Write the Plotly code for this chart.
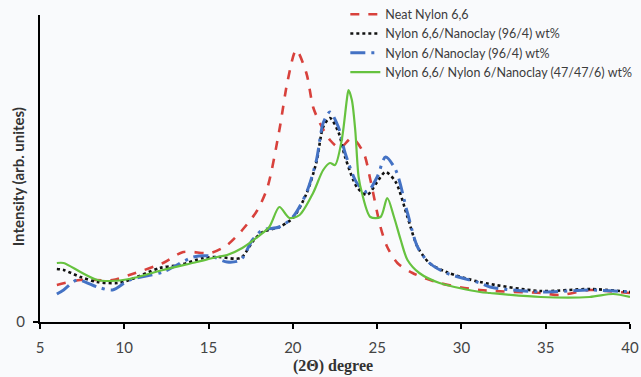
import plotly.graph_objects as go

# Diffraction angle (2θ, degrees) and intensity (arb. units) for each sample
neat66_x = [6.0, 7.4, 9.3, 10.3, 12.3, 13.5, 15.1, 16.1, 17.0, 17.9, 18.5, 19.2, 19.7, 20.2,
            20.8, 21.2, 21.6, 22.2, 22.8, 23.5, 24.2, 24.6, 25.2, 25.6, 26.2, 27.1, 28.7,
            31.1, 34.7, 35.8, 37.6, 38.6, 40.0]
neat66_y = [37, 42, 42, 47, 59, 70, 69, 77, 92, 112, 135, 192, 242, 272,
            249, 215, 199, 182, 174, 184, 169, 142, 95, 75, 59, 49, 39,
            32, 29, 27, 32, 31, 29]

n66clay_x = [6.0, 6.4, 7.4, 8.4, 9.6, 10.3, 12.1, 13.3, 14.7, 15.6, 16.9, 17.6, 18.2, 19.2,
             20.0, 20.8, 21.4, 21.8, 22.2, 22.7, 23.1, 23.8, 24.4, 25.0, 25.5, 26.1, 26.8,
             27.4, 28.1, 29.1, 31.1, 34.7, 37.6, 40.0]
n66clay_y = [53, 52, 45, 40, 39, 42, 54, 57, 64, 65, 64, 80, 90, 95,
             104, 128, 160, 195, 204, 190, 165, 135, 127, 140, 150, 140, 105,
             75, 59, 50, 40, 31, 33, 30]

n6clay_x = [6.0, 6.4, 7.2, 8.4, 9.3, 10.3, 12.3, 14.1, 15.1, 16.1, 16.9, 17.6, 18.2, 19.2,
            20.0, 20.8, 21.4, 21.8, 22.2, 22.7, 23.1, 23.8, 24.4, 25.0, 25.5, 26.1, 26.8,
            27.4, 28.1, 29.1, 31.1, 31.7, 34.7, 37.6, 40.0]
n6clay_y = [28, 32, 42, 35, 32, 42, 50, 65, 66, 60, 62, 82, 92, 95,
            105, 129, 162, 199, 210, 195, 169, 139, 130, 145, 165, 152, 109,
            75, 59, 49, 39, 35, 30, 32, 30]

blend_x = [6.0, 6.4, 7.4, 8.4, 9.2, 10.3, 12.3, 14.3, 15.5, 16.1, 17.0, 17.9, 18.6, 19.2,
           19.8, 20.4, 21.2, 21.8, 22.2, 22.5, 22.9, 23.2, 23.3, 23.5, 23.7, 23.9, 24.1,
           24.6, 25.2, 25.6, 26.0, 26.4, 26.8, 27.5, 28.7, 31.1, 31.7, 34.7, 37.6, 39.0, 40.0]
blend_y = [59, 59, 50, 42, 41, 43, 52, 60, 65, 67, 74, 85, 95, 115,
           104, 107, 129, 152, 159, 157, 182, 222, 232, 222, 192, 145, 129,
           105, 105, 124, 105, 82, 62, 49, 39, 30, 29, 25, 25, 28, 25]

series = [
    ("Neat Nylon 6,6", neat66_x, neat66_y, "#d8413c", "dash", 2.6),
    ("Nylon 6,6/Nanoclay (96/4) wt%", n66clay_x, n66clay_y, "#111111", "dot", 2.6),
    ("Nylon 6/Nanoclay (96/4) wt%", n6clay_x, n6clay_y, "#4472c4", "longdashdot", 3),
    ("Nylon 6,6/ Nylon 6/Nanoclay (47/47/6) wt%", blend_x, blend_y, "#66c23f", "solid", 2.2),
]

x_ticks = [5, 10, 15, 20, 25, 30, 35, 40]

fig = go.Figure()
for name, xs, ys, color, dash, width in series:
    fig.add_trace(go.Scatter(
        x=xs, y=ys, name=name, mode="lines",
        line=dict(color=color, dash=dash, width=width, shape="spline", smoothing=0.8),
    ))

bg = "#f9fafc"
fig.update_layout(
    width=641, height=377,
    margin=dict(l=40, r=11, t=15, b=55, autoexpand=False),
    paper_bgcolor=bg, plot_bgcolor=bg,
    font=dict(family="Lato, sans-serif", size=13, color="#444444"),
    showlegend=True,
    legend=dict(
        x=0.5175, y=1.05, xanchor="left", yanchor="top",
        bgcolor="rgba(0,0,0,0)", font=dict(size=12.5, color="#3c3c3c"),
        tracegroupgap=0, itemwidth=30,
    ),
    xaxis=dict(
        range=[5, 40], tickvals=x_ticks, automargin=False,
        showgrid=False, zeroline=False, showline=True, linecolor="black", linewidth=2,
        ticks="outside", ticklen=5, tickwidth=2, tickcolor="black", ticklabelstandoff=6,
        tickfont=dict(size=15, color="#444444"),
    ),
    yaxis=dict(
        range=[0, 307], tickvals=[0], ticktext=["0"], automargin=False,
        showgrid=False, zeroline=False, showline=True, linecolor="black", linewidth=2,
        ticks="outside", ticklen=5, tickwidth=2, tickcolor="black", ticklabelstandoff=5,
        tickfont=dict(size=15, color="#444444"),
    ),
    annotations=[
        dict(text="<b>(2Θ) degree</b>", xref="paper", yref="paper", x=0.497, y=-0.179,
             showarrow=False, xanchor="center", yanchor="bottom",
             font=dict(family="Liberation Serif, serif", size=16, color="#333333")),
        dict(text="<b>Intensity (arb. unites)</b>", xref="paper", yref="paper",
             x=-0.037, y=0.472, textangle=-90, showarrow=False,
             xanchor="center", yanchor="middle",
             font=dict(family="Lato, sans-serif", size=15, color="#333333")),
    ],
)

fig.write_html("out.html")
